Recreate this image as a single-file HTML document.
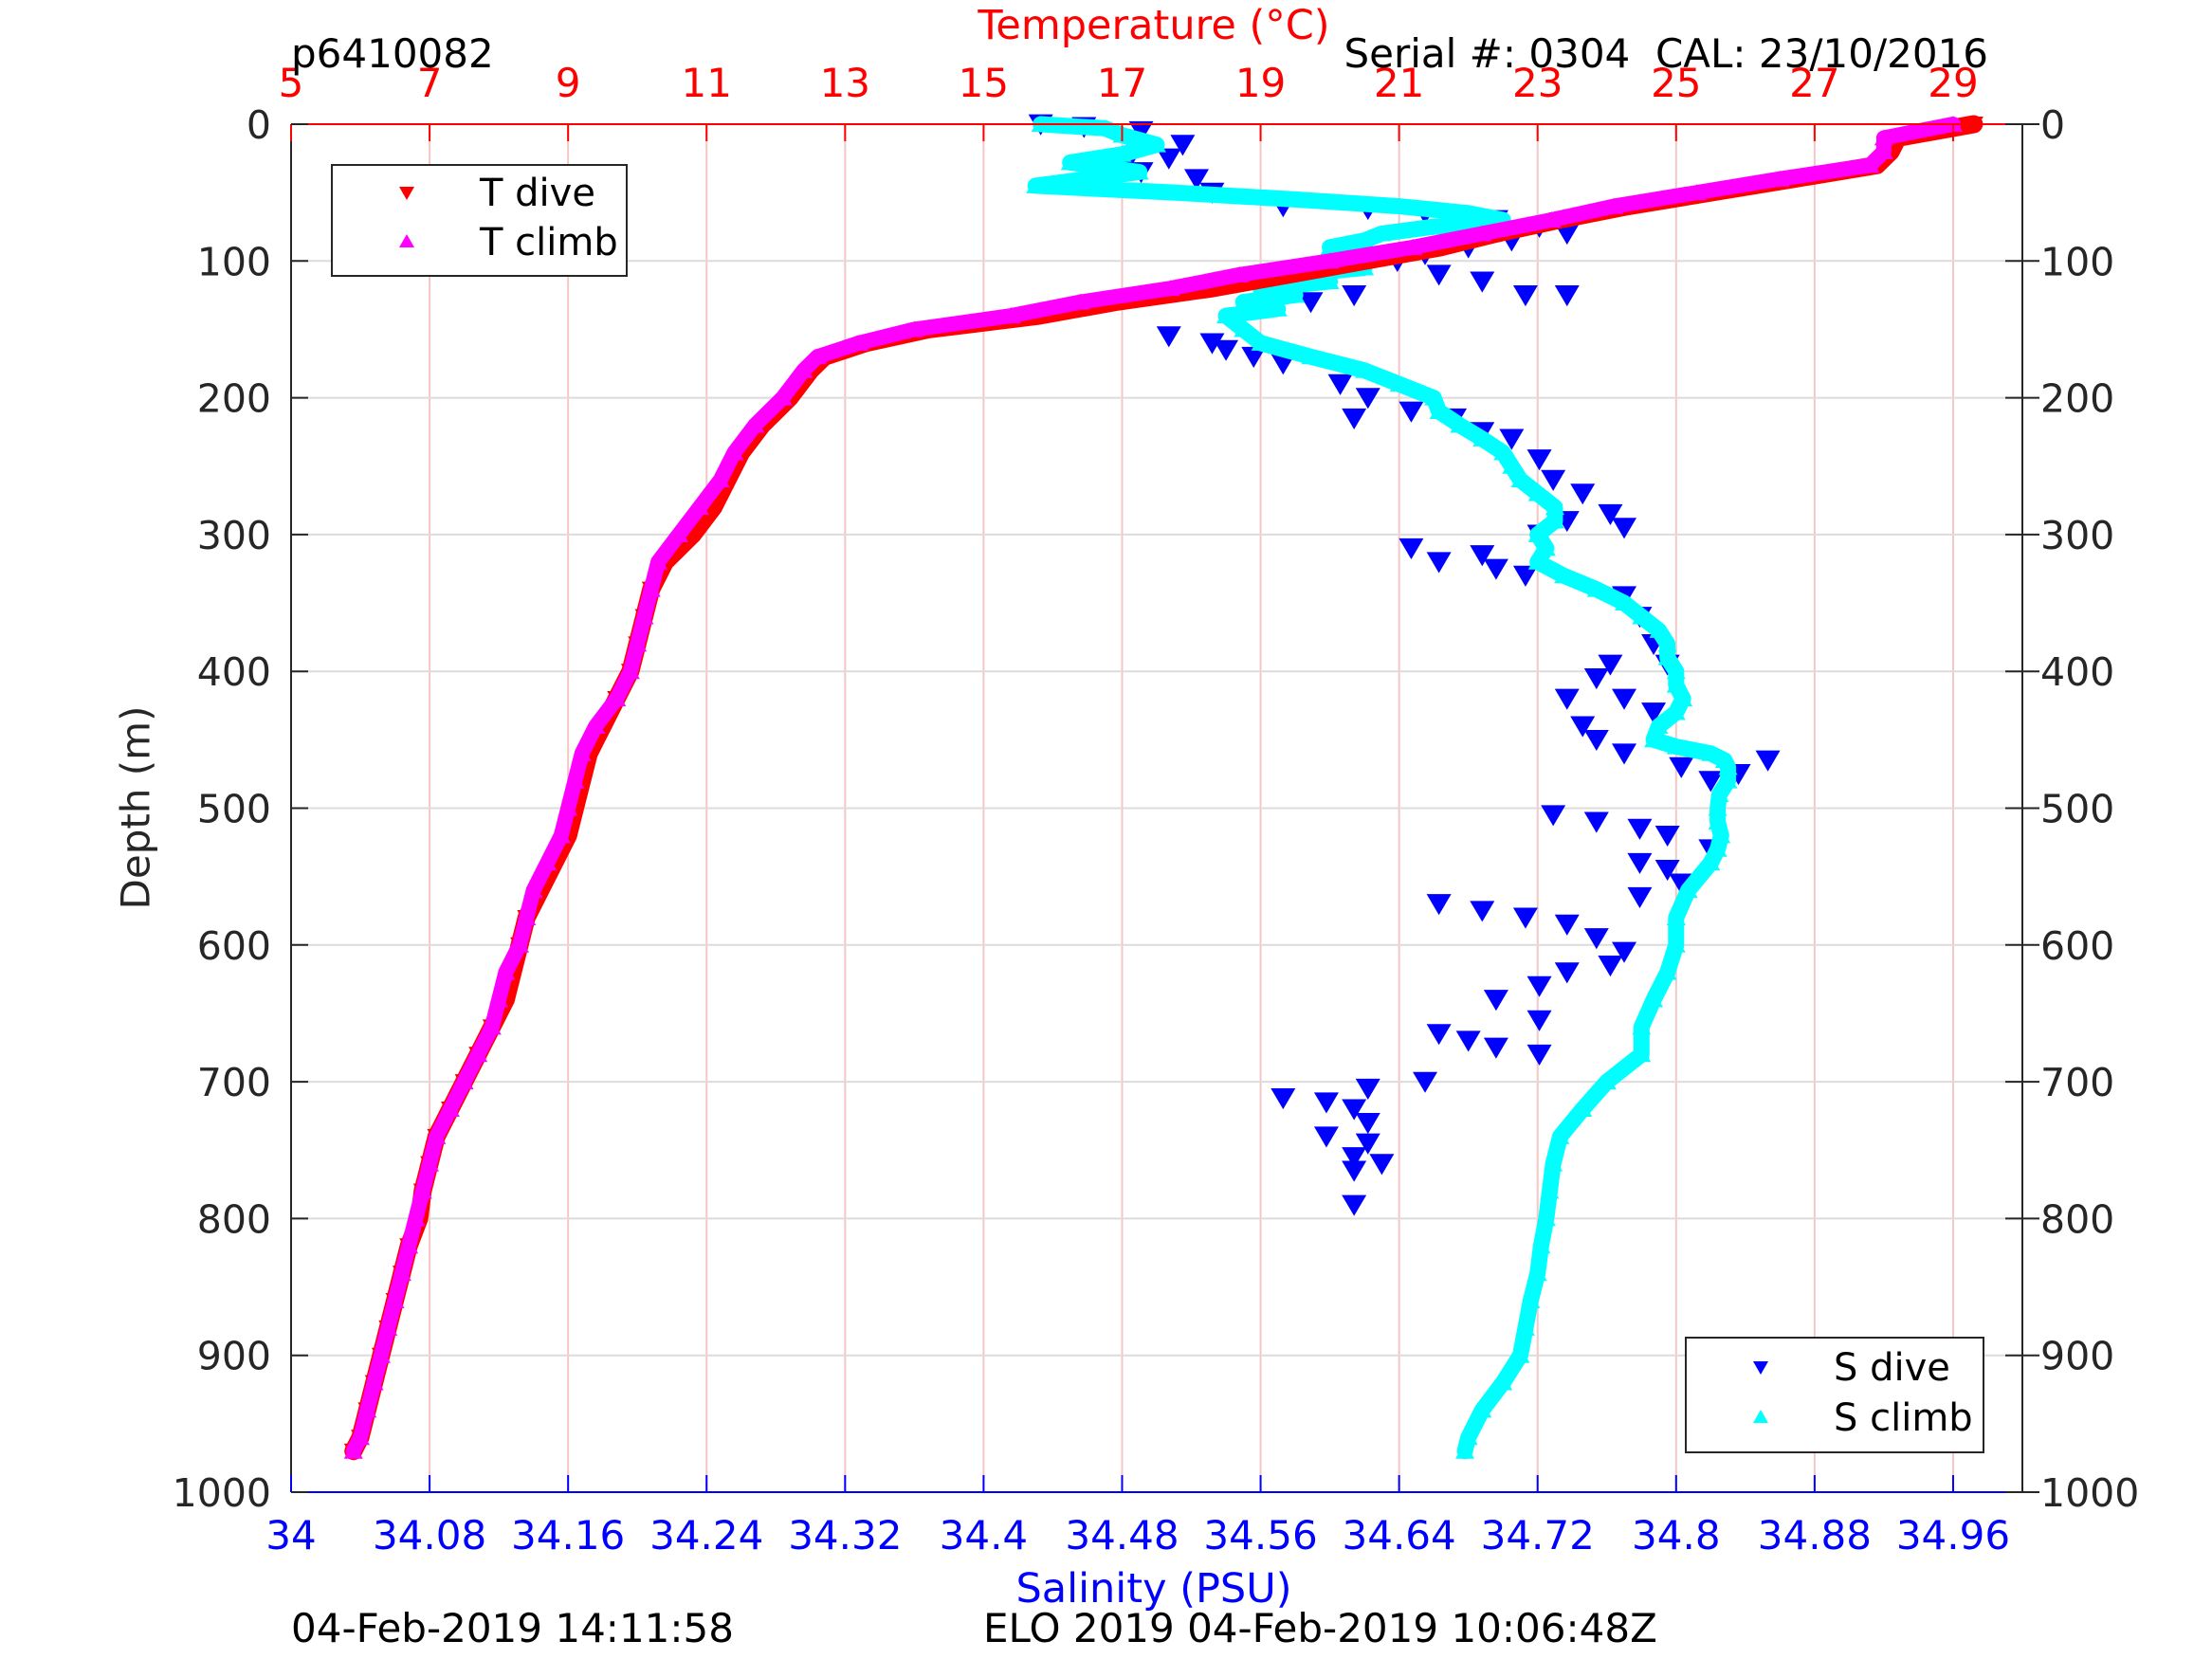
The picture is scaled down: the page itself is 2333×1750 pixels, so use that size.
<!DOCTYPE html>
<html><head><meta charset="utf-8"><style>
html,body{margin:0;padding:0;background:#fff;}
svg{display:block;font-family:"DejaVu Sans","Liberation Sans",sans-serif;}
</style></head><body>
<svg id="chart" width="2333" height="1750" viewBox="0 0 2333 1750"></svg>
<script>
const tempTicks=[5,7,9,11,13,15,17,19,21,23,25,27,29];
const salTickLabels=["34","34.08","34.16","34.24","34.32","34.4","34.48","34.56","34.64","34.72","34.8","34.88","34.96"];
const salTicks=[34,34.08,34.16,34.24,34.32,34.4,34.48,34.56,34.64,34.72,34.8,34.88,34.96];
const depthTicks=[0,100,200,300,400,500,600,700,800,900,1000];
const tDepth=[0,10,20,30,40,50,60,70,80,90,100,110,120,130,140,150,160,170,180,200,220,240,260,280,300,320,340,360,380,400,420,440,460,480,500,520,540,560,580,600,620,640,660,680,700,720,740,760,780,800,820,840,860,880,900,920,940,960,970];
const tClimb=[29,28,28,27.8,26.5,25.3,24.1,23.2,22.2,21.2,20,18.7,17.7,16.4,15.4,14,13.2,12.6,12.4,12.1,11.7,11.4,11.2,10.9,10.6,10.3,10.2,10.1,10.0,9.9,9.7,9.4,9.2,9.1,9.0,8.9,8.7,8.5,8.4,8.3,8.1,8.0,7.9,7.7,7.5,7.3,7.1,7.0,6.9,6.8,6.7,6.6,6.5,6.4,6.3,6.2,6.1,6.0,5.9];
const tDive=[29.3,28.2,28.1,27.9,26.7,25.5,24.3,23.3,22.4,21.6,20.5,19.4,18.3,16.9,15.8,14.2,13.3,12.7,12.5,12.2,11.8,11.5,11.3,11.1,10.8,10.4,10.2,10.1,10.0,9.9,9.7,9.5,9.3,9.2,9.1,9.0,8.8,8.6,8.4,8.3,8.2,8.1,7.9,7.7,7.5,7.3,7.1,7.0,6.9,6.85,6.7,6.6,6.5,6.4,6.3,6.2,6.1,6.0,5.9];
const sDepth=[0,3,8,15,22,28,35,45,50,55,60,65,70,75,80,85,90,95,100,105,110,115,120,125,130,135,140,150,160,170,180,190,200,210,220,230,240,250,260,270,280,290,300,310,320,330,340,350,360,370,380,390,400,410,420,430,440,450,455,460,465,470,480,490,500,510,520,530,540,560,580,600,620,640,660,680,700,720,740,760,780,800,820,840,860,880,900,920,940,960,970];
const sClimb=[34.433,34.47,34.48,34.50,34.48,34.45,34.49,34.43,34.51,34.58,34.64,34.68,34.70,34.66,34.63,34.62,34.60,34.61,34.60,34.62,34.58,34.60,34.56,34.58,34.55,34.57,34.54,34.55,34.56,34.589,34.62,34.64,34.66,34.663,34.675,34.688,34.70,34.705,34.71,34.72,34.73,34.73,34.72,34.725,34.72,34.735,34.754,34.77,34.78,34.79,34.795,34.795,34.80,34.80,34.804,34.80,34.79,34.787,34.80,34.82,34.828,34.83,34.83,34.825,34.824,34.824,34.826,34.824,34.82,34.807,34.80,34.80,34.795,34.787,34.78,34.78,34.76,34.746,34.733,34.729,34.727,34.725,34.722,34.72,34.716,34.713,34.71,34.70,34.688,34.68,34.678];
const sDiveDepth=[0,2,5,15,25,30,40,35,50,60,62,65,70,75,80,85,90,95,100,110,115,125,125,125,130,135,155,160,165,170,175,190,200,215,210,215,225,230,245,260,270,285,295,310,320,325,330,315,300,290,345,360,380,395,395,405,420,420,430,440,450,460,470,480,465,475,505,510,515,520,530,540,545,555,565,570,575,580,585,595,605,615,620,630,640,655,665,670,675,680,700,705,712,715,720,730,740,745,755,760,765,790];
const sDive=[34.433,34.458,34.491,34.515,34.507,34.482,34.523,34.491,34.532,34.573,34.622,34.655,34.696,34.721,34.737,34.705,34.680,34.655,34.639,34.663,34.688,34.713,34.737,34.614,34.589,34.556,34.507,34.532,34.540,34.556,34.573,34.606,34.622,34.614,34.647,34.672,34.688,34.705,34.721,34.729,34.746,34.762,34.770,34.647,34.663,34.696,34.713,34.688,34.721,34.737,34.770,34.779,34.787,34.795,34.762,34.754,34.737,34.770,34.787,34.746,34.754,34.770,34.803,34.820,34.853,34.836,34.729,34.754,34.779,34.795,34.820,34.779,34.795,34.803,34.779,34.663,34.688,34.713,34.737,34.754,34.770,34.762,34.737,34.721,34.696,34.721,34.663,34.680,34.696,34.721,34.655,34.622,34.573,34.598,34.614,34.622,34.598,34.622,34.614,34.630,34.614,34.614];

const L=307,R=2133,T=131,B=1574;
const xT=t=>L+(t-5)/25*(R-L);
const xS=s=>L+(s-34)/1*(R-L);
const yD=d=>T+d/1000*(B-T);
const svg=document.getElementById('chart');
const NS="http://www.w3.org/2000/svg";
function mk(tag,attrs,parent){const e=document.createElementNS(NS,tag);for(const k in attrs)e.setAttribute(k,attrs[k]);(parent||svg).appendChild(e);return e;}
function txt(s,x,y,attrs){const e=mk('text',Object.assign({x:x,y:y},attrs));e.textContent=s;return e;}

for(const t of tempTicks){const g=mk('line',{x1:xT(t),x2:xT(t),y1:T,y2:B,stroke:'#f5c6c6','stroke-width':2});

}
for(const d of depthTicks){const g=mk('line',{x1:L,x2:R,y1:yD(d),y2:yD(d),stroke:'#dcdcdc','stroke-width':2});

}

function series(xs,ds,xf,color,down,name,lineW,ms){
  const g=mk('g',{});
  
  
  if(lineW>0){
    const pts=xs.map((v,i)=>xf(v)+','+yD(ds[i])).join(' ');
    mk('polyline',{points:pts,fill:'none',stroke:color,'stroke-width':lineW,'stroke-linejoin':'round','stroke-linecap':'round'},g);
  }
  xs.forEach((v,i)=>{const x=xf(v),y=yD(ds[i]);const s=ms;
    const p=down?`${x-s},${y-s*0.8} ${x+s},${y-s*0.8} ${x},${y+s*0.9}`:`${x-s},${y+s*0.8} ${x+s},${y+s*0.8} ${x},${y-s*0.9}`;
    const m=mk('polygon',{points:p,fill:color},g);
    
    });
}
series(sDive,sDiveDepth,xS,'#0000ff',true,'s-dive-series',0,13);
series(sClimb,sDepth,xS,'#00ffff',false,'s-climb-series',17,10);
series(tDive,tDepth,xT,'#ff0000',true,'t-dive-series',19,10);
series(tClimb,tDepth,xT,'#ff00ff',false,'t-climb-series',16,10);

mk('line',{x1:L,x2:R,y1:T,y2:T,stroke:'#ff0000','stroke-width':2});
mk('line',{x1:L,x2:R,y1:B,y2:B,stroke:'#0000ff','stroke-width':2});
mk('line',{x1:L,x2:L,y1:T,y2:B,stroke:'#262626','stroke-width':2});
mk('line',{x1:R,x2:R,y1:T,y2:B,stroke:'#262626','stroke-width':2});
tempTicks.forEach((t,i)=>{
  mk('line',{x1:xT(t),x2:xT(t),y1:T,y2:T+18,stroke:'#ff0000','stroke-width':2});
  mk('line',{x1:xT(t),x2:xT(t),y1:B,y2:B-18,stroke:'#0000ff','stroke-width':2});
  const a=txt(String(t),xT(t),102,{'font-size':42,fill:'#ff0000','text-anchor':'middle'});
  
  
});
salTicks.forEach((s,i)=>{
  const a=txt(salTickLabels[i],xS(s),1634,{'font-size':42,fill:'#0000ff','text-anchor':'middle'});
  
  
});
depthTicks.forEach(d=>{
  mk('line',{x1:L,x2:L+18,y1:yD(d),y2:yD(d),stroke:'#262626','stroke-width':2});
  mk('line',{x1:R-18,x2:R+18,y1:yD(d),y2:yD(d),stroke:'#262626','stroke-width':2});
  const a=txt(String(d),286,yD(d)+15,{'font-size':41,fill:'#262626','text-anchor':'end'});
  
  
  const b=txt(String(d),2152,yD(d)+15,{'font-size':41,fill:'#262626','text-anchor':'start'});
  
  
});
</script>
<div style="position:absolute;left:0;top:0;width:2333px;height:1750px;pointer-events:none;font-family:'DejaVu Sans','Liberation Sans',sans-serif;">
<div style="position:absolute;left:917px;width:600px;text-align:center;top:2px;font-size:43px;line-height:50px;color:#ff0000;">Temperature (°C)</div>
<div style="position:absolute;left:307px;top:32px;font-size:42px;line-height:50px;color:#000;">p6410082</div>
<div style="position:absolute;right:236px;top:32px;font-size:42px;line-height:50px;color:#000;white-space:pre;">Serial #: 0304  CAL: 23/10/2016</div>
<div style="position:absolute;left:143px;top:852px;transform:translate(-50%,-50%) rotate(-90deg);font-size:42px;color:#262626;white-space:nowrap;">Depth (m)</div>
<div style="position:absolute;left:917px;width:600px;text-align:center;top:1651px;font-size:43px;line-height:50px;color:#0000ff;">Salinity (PSU)</div>
<div style="position:absolute;left:307px;top:1693px;font-size:42px;line-height:50px;color:#000;">04-Feb-2019 14:11:58</div>
<div style="position:absolute;left:1037px;top:1693px;font-size:42px;line-height:50px;color:#000;">ELO 2019 04-Feb-2019 10:06:48Z</div>
<div style="position:absolute;left:349px;top:173px;width:309px;height:115px;border:2px solid #262626;background:#fff;font-size:40px;line-height:46px;color:#000;">
 <div style="position:absolute;left:0;top:6px;width:100%;height:46px;"><span style="position:absolute;left:70px;top:16px;width:0;height:0;border-left:8px solid transparent;border-right:8px solid transparent;border-top:14px solid #ff0000;"></span><span style="position:absolute;left:155px;top:0;">T dive</span></div>
 <div style="position:absolute;left:0;top:58px;width:100%;height:46px;"><span style="position:absolute;left:70px;top:14px;width:0;height:0;border-left:8px solid transparent;border-right:8px solid transparent;border-bottom:14px solid #ff00ff;"></span><span style="position:absolute;left:155px;top:0;">T climb</span></div>
</div>
<div style="position:absolute;left:1777px;top:1410px;width:312px;height:119px;border:2px solid #262626;background:#fff;font-size:40px;line-height:46px;color:#000;">
 <div style="position:absolute;left:0;top:8px;width:100%;height:46px;"><span style="position:absolute;left:70px;top:16px;width:0;height:0;border-left:8px solid transparent;border-right:8px solid transparent;border-top:14px solid #0000ff;"></span><span style="position:absolute;left:155px;top:0;">S dive</span></div>
 <div style="position:absolute;left:0;top:61px;width:100%;height:46px;"><span style="position:absolute;left:70px;top:14px;width:0;height:0;border-left:8px solid transparent;border-right:8px solid transparent;border-bottom:14px solid #00ffff;"></span><span style="position:absolute;left:155px;top:0;">S climb</span></div>
</div>
</div>
</body></html>
